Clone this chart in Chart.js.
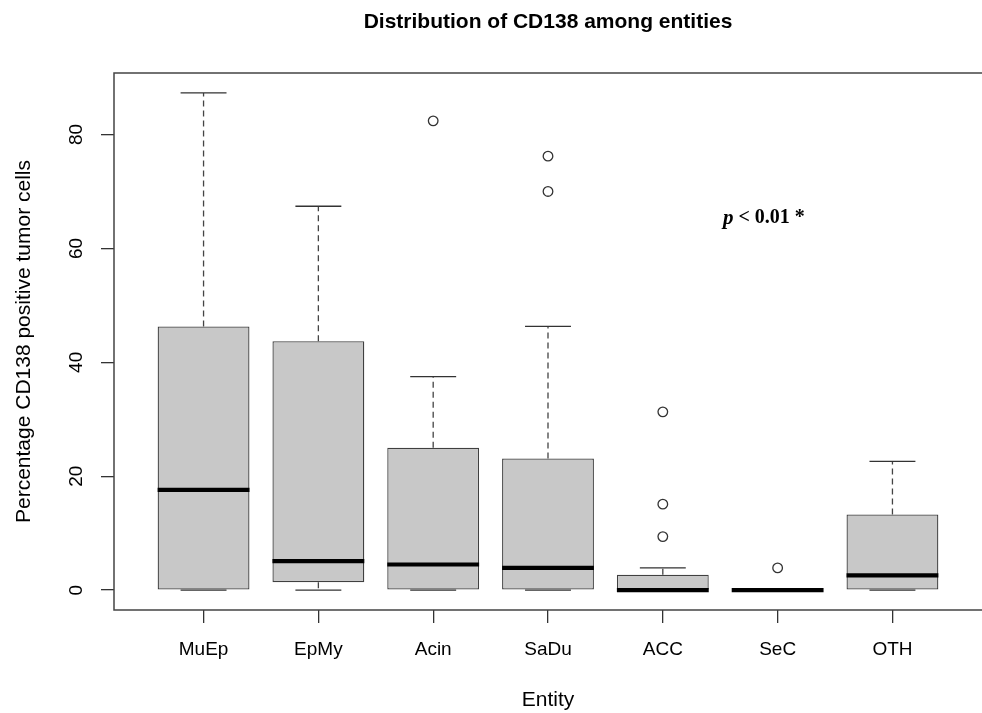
<!DOCTYPE html>
<html>
<head>
<meta charset="utf-8">
<script src="https://cdn.jsdelivr.net/npm/chart.js@4/dist/chart.umd.min.js"></script>
<style>
  html, body { margin: 0; padding: 0; background: #ffffff; }
  #c { display: block; }
</style>
</head>
<body>
<canvas id="c" width="982" height="713"></canvas>
<script>
// ---- data ----
const categories  = ['MuEp', 'EpMy', 'Acin', 'SaDu', 'ACC', 'SeC', 'OTH'];
const whiskerLow  = [0,    0,    0,    0,    0,   0, 0];
const q1          = [0,    1.4,  0,    0,    0,   0, 0];
const median      = [17.6, 5.1,  4.5,  3.9,  0,   0, 2.6];
const q3          = [46.3, 43.7, 25.0, 23.1, 2.7, 0, 13.3];
const whiskerHigh = [87.3, 67.4, 37.5, 46.3, 3.9, 0, 22.6];
const outliers    = [[], [], [82.4], [76.2, 70.0], [31.3, 15.1, 9.4], [3.9], []];
const yTickValues = [0, 20, 40, 60, 80];
const titleText   = 'Distribution of CD138 among entities';
const xTitle      = 'Entity';
const yTitle      = 'Percentage CD138 positive tumor cells';
const pItalic     = 'p';
const pRest       = ' < 0.01 *';
const pLabelPos   = { x: 5.88, y: 65.3 };

const SANS = "'Liberation Sans', Arial, Helvetica, sans-serif";
const SERIF = "'Liberation Serif', 'Times New Roman', serif";

const boxData = categories.map((c, i) => ({ x: i + 1, y: [q1[i], q3[i]] }));
const outlierData = [];
categories.forEach((c, i) => outliers[i].forEach(v => outlierData.push({ x: i + 1, y: v })));

const boxPlugin = {
  id: 'boxParts',
  afterDatasetsDraw(chart) {
    const { ctx, chartArea, scales: { x, y } } = chart;
    ctx.save();
    categories.forEach((c, i) => {
      const cx = x.getPixelForValue(i + 1);
      const bl = x.getPixelForValue(i + 1 - 0.4);
      const br = x.getPixelForValue(i + 1 + 0.4);
      const cl = x.getPixelForValue(i + 1 - 0.2);
      const cr = x.getPixelForValue(i + 1 + 0.2);
      const yQ1 = y.getPixelForValue(q1[i]);
      const yQ3 = y.getPixelForValue(q3[i]);
      const yLo = y.getPixelForValue(whiskerLow[i]);
      const yHi = y.getPixelForValue(whiskerHigh[i]);
      const yMed = y.getPixelForValue(median[i]);
      // dashed whiskers
      ctx.strokeStyle = '#444';
      ctx.lineWidth = 1.3;
      ctx.setLineDash([6, 4]);
      ctx.beginPath();
      if (whiskerHigh[i] > q3[i]) { ctx.moveTo(cx, yQ3); ctx.lineTo(cx, yHi); }
      if (whiskerLow[i] < q1[i]) { ctx.moveTo(cx, yQ1); ctx.lineTo(cx, yLo); }
      ctx.stroke();
      ctx.setLineDash([]);
      // staples
      ctx.strokeStyle = '#333';
      ctx.beginPath();
      ctx.moveTo(cl, yHi); ctx.lineTo(cr, yHi);
      ctx.moveTo(cl, yLo); ctx.lineTo(cr, yLo);
      ctx.stroke();
      // median
      ctx.strokeStyle = '#000';
      ctx.lineWidth = 4.2;
      ctx.lineCap = 'butt';
      ctx.beginPath();
      ctx.moveTo(bl, yMed); ctx.lineTo(br, yMed);
      ctx.stroke();
    });
    // plot frame (its right side lies just beyond the cropped canvas edge)
    ctx.strokeStyle = '#444';
    ctx.lineWidth = 1.5;
    ctx.beginPath();
    ctx.moveTo(chartArea.right + 3, chartArea.top);
    ctx.lineTo(chartArea.left, chartArea.top);
    ctx.lineTo(chartArea.left, chartArea.bottom);
    ctx.lineTo(chartArea.right + 3, chartArea.bottom);
    ctx.stroke();
    // p-value annotation
    const px = x.getPixelForValue(pLabelPos.x);
    const py = y.getPixelForValue(pLabelPos.y);
    const fItalic = 'italic bold 21px ' + SERIF;
    const fBold = 'bold 20px ' + SERIF;
    ctx.font = fItalic; const w1 = ctx.measureText(pItalic).width;
    ctx.font = fBold; const w2 = ctx.measureText(pRest).width;
    let sx = px - (w1 + w2) / 2;
    ctx.fillStyle = '#000';
    ctx.textBaseline = 'middle';
    ctx.textAlign = 'left';
    ctx.font = fItalic; ctx.fillText(pItalic, sx, py);
    ctx.font = fBold; ctx.fillText(pRest, sx + w1, py);
    ctx.restore();
  }
};

new Chart(document.getElementById('c'), {
  type: 'bar',
  data: {
    datasets: [
      {
        label: 'Box',
        data: boxData,
        backgroundColor: '#c8c8c8',
        borderColor: '#404040',
        borderWidth: 1.3,
        borderSkipped: false,
        barPercentage: 0.8,
        categoryPercentage: 1.0,
        order: 2
      },
      {
        type: 'line',
        label: 'Outliers',
        data: outlierData,
        showLine: false,
        pointStyle: 'circle',
        pointRadius: 4.8,
        pointBorderWidth: 1.3,
        pointBorderColor: '#333',
        pointBackgroundColor: 'rgba(0,0,0,0)',
        order: 1
      }
    ]
  },
  options: {
    responsive: false,
    animation: false,
    layout: { autoPadding: false, padding: { left: 0, right: -1, top: 0, bottom: 0 } },
    plugins: {
      legend: { display: false },
      tooltip: { enabled: false },
      title: {
        display: true,
        text: titleText,
        fullSize: false,
        color: '#000',
        font: { family: SANS, size: 21, weight: 'bold' },
        padding: { top: 9.4, bottom: 38.4 }
      }
    },
    scales: {
      x: {
        type: 'linear',
        min: 0.22,
        max: 7.78,
        offset: false,
        afterBuildTicks: (s) => { s.ticks = categories.map((c, i) => ({ value: i + 1 })); },
        afterFit: (s) => { s.height = 103; },
        border: { display: false },
        grid: { display: true, offset: false, drawOnChartArea: false, drawTicks: true, tickLength: 13, tickColor: '#333', tickWidth: 1.3, lineWidth: 1.3, color: '#333' },
        ticks: {
          autoSkip: false,
          maxRotation: 0,
          minRotation: 0,
          padding: 15,
          color: '#000',
          font: { family: SANS, size: 19 },
          callback: (v) => categories[Math.round(v) - 1] || ''
        },
        title: {
          display: true,
          text: xTitle,
          color: '#000',
          font: { family: SANS, size: 21 },
          padding: { top: 0, bottom: 0 }
        }
      },
      y: {
        type: 'linear',
        min: -3.49,
        max: 90.8,
        afterBuildTicks: (s) => { s.ticks = yTickValues.map(v => ({ value: v })); },
        afterFit: (s) => { s.width = 114; },
        border: { display: false },
        grid: { display: true, drawOnChartArea: false, drawTicks: true, tickLength: 13, tickColor: '#333', tickWidth: 1.3, lineWidth: 1.3, color: '#333' },
        ticks: {
          minRotation: 90,
          maxRotation: 90,
          crossAlign: 'center',
          padding: 14,
          color: '#000',
          font: { family: SANS, size: 19 },
          callback: (v) => String(v)
        },
        title: {
          display: true,
          text: yTitle,
          color: '#000',
          font: { family: SANS, size: 21 },
          padding: { top: 12, bottom: 0 }
        }
      }
    }
  },
  plugins: [boxPlugin]
});
</script>
</body>
</html>
